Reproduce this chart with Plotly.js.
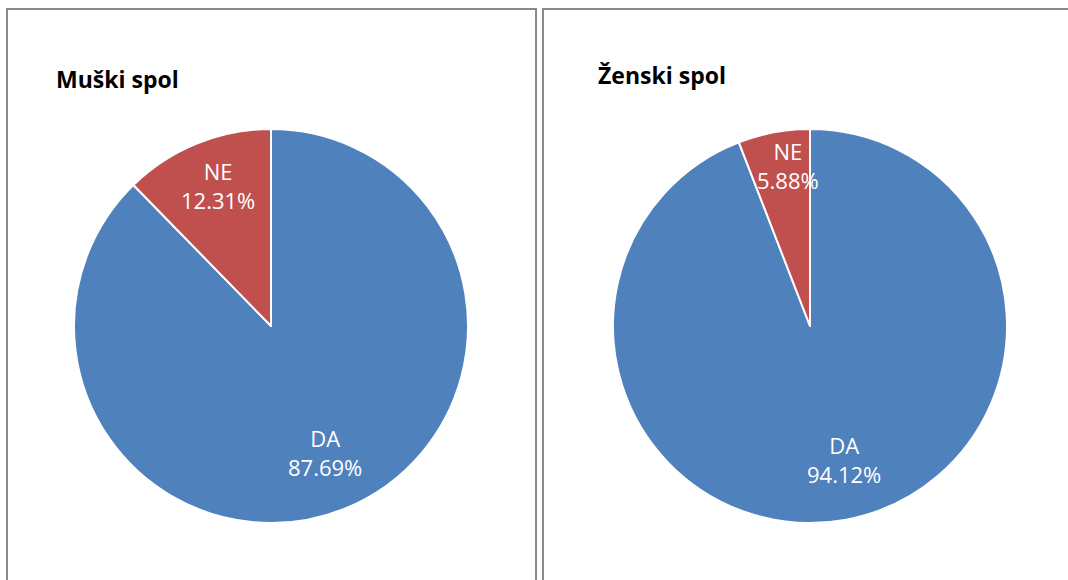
<!DOCTYPE html>
<html>
<head>
<meta charset="utf-8">
<script src="https://cdn.plot.ly/plotly-3.0.1.min.js"></script>
<style>
  html, body { margin: 0; padding: 0; background: #fff; }
  #chart { width: 1068px; height: 580px; }
</style>
</head>
<body>
<div id="chart"></div>
<script>
// ---- data ----
const sliceLabels = ['DA', 'NE'];
const maleValues = [87.69, 12.31];
const femaleValues = [94.12, 5.88];
const chartTitles = ['Muški spol', 'Ženski spol'];
const sliceColors = ['#4F81BD', '#C0504D'];

// ---- layout geometry (pixels) ----
const W = 1068, H = 580;
const pies = [
  { values: maleValues, cx: 271, cy: 326, r: 197, labelR: [0.70, 0.76], labelShift: [-0.8, 1.5], title: chartTitles[0], tx: 54, ty: 79 },
  { values: femaleValues, cx: 810, cy: 326, r: 197, labelR: [0.70, 0.82], labelShift: [-3.6, 2.8], title: chartTitles[1], tx: 596, ty: 75 }
];
const FONT = '"Open Sans", sans-serif';

const traces = [];
const annotations = [];
pies.forEach(p => {
  traces.push({
    type: 'pie',
    labels: sliceLabels,
    values: p.values,
    sort: false,
    direction: 'clockwise',
    rotation: 0,
    textinfo: 'none',
    hoverinfo: 'label+percent',
    marker: { colors: sliceColors, line: { color: '#ffffff', width: 2 } },
    domain: {
      x: [(p.cx - p.r) / W, (p.cx + p.r) / W],
      y: [(H - p.cy - p.r) / H, (H - p.cy + p.r) / H]
    },
    showlegend: false
  });
  // label positions follow the slices: clockwise from 12 o'clock
  const total = p.values.reduce((a, b) => a + b, 0);
  let cum = 0;
  p.values.forEach((v, i) => {
    const f = (cum + v / 2) / total;
    cum += v;
    const th = 2 * Math.PI * f + p.labelShift[i] * Math.PI / 180;
    const rr = p.r * p.labelR[i];
    const px = p.cx + Math.sin(th) * rr;
    const py = p.cy - Math.cos(th) * rr;
    annotations.push({
      xref: 'paper', yref: 'paper',
      x: px / W, y: 1 - py / H,
      xanchor: 'center', yanchor: 'middle',
      text: sliceLabels[i] + '<br>' + (v / total * 100).toFixed(2) + '%',
      showarrow: false,
      font: { family: FONT, size: 22, color: '#ffffff' }
    });
  });
  annotations.push({
    xref: 'paper', yref: 'paper',
    x: p.tx / W, y: 1 - p.ty / H,
    xanchor: 'left', yanchor: 'middle',
    text: '<b>' + p.title + '</b>',
    showarrow: false,
    font: { family: FONT, size: 23, color: '#000000' }
  });
});

const shapes = [
  { type: 'rect', xref: 'paper', yref: 'paper',
    x0: 7 / W, x1: 536 / W, y0: -0.05, y1: 1 - 9 / H,
    line: { color: '#8a8a8a', width: 2 }, fillcolor: 'rgba(0,0,0,0)' },
  { type: 'rect', xref: 'paper', yref: 'paper',
    x0: 543 / W, x1: 1.05, y0: -0.05, y1: 1 - 9 / H,
    line: { color: '#8a8a8a', width: 2 }, fillcolor: 'rgba(0,0,0,0)' }
];

const layout = {
  width: W, height: H,
  margin: { l: 0, r: 0, t: 0, b: 0 },
  paper_bgcolor: '#ffffff',
  plot_bgcolor: '#ffffff',
  xaxis: { visible: false, range: [0, 1] },
  yaxis: { visible: false, range: [0, 1] },
  annotations: annotations,
  shapes: shapes,
  showlegend: false
};

Plotly.newPlot('chart', traces, layout, { displayModeBar: false, staticPlot: true });
</script>
</body>
</html>
